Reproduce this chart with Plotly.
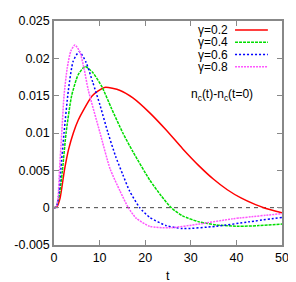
import plotly.graph_objects as go

# gamma = 0.2
t_g02 = [0, 0.6, 1.34, 2.28, 3.2, 4.24, 5.3, 6.4, 8.4, 11.1, 14.5, 17.3, 21, 24.6, 28.2, 31.8, 35, 38, 41,
         44.2, 46, 50]
v_g02 = [0, 0.0001, 0.0013, 0.0050, 0.0078, 0.0100, 0.0117, 0.0130, 0.0150, 0.0161, 0.0157, 0.0147, 0.0127,
         0.0104, 0.0079, 0.0056, 0.0038, 0.0024, 0.0013, 0.0004, 0, -0.0007]

# gamma = 0.4
t_g04 = [0, 0.5, 1.2, 1.85, 2.65, 3.87, 5.3, 6.8, 8.5, 10.5, 12.6, 15.1, 17.3, 21, 23.5, 25.7, 28.2, 31.8,
         35.5, 40.5, 44.9, 50]
v_g04 = [0, 0.0001, 0.0018, 0.0050, 0.0100, 0.0150, 0.0178, 0.0189, 0.0181, 0.0162, 0.0133, 0.0100, 0.0075,
         0.0037, 0.0016, 0, -0.0011, -0.0019, -0.0023, -0.0025, -0.0024, -0.0022]

# gamma = 0.6
t_g06 = [0, 0.5, 1.0, 1.48, 2.2, 3.15, 4.2, 5.54, 7.0, 8.5, 10.1, 11.85, 13.5, 15.1, 16.6, 18.8, 21, 24.6,
         28.2, 35.5, 42.7, 50]
v_g06 = [0, 0.0001, 0.0015, 0.0050, 0.0100, 0.0157, 0.0196, 0.0209, 0.0195, 0.0168, 0.0137, 0.0100, 0.0069,
         0.0044, 0.0022, 0, -0.0013, -0.0024, -0.0028, -0.0025, -0.0019, -0.0013]

# gamma = 0.8
t_g08 = [0, 0.5, 0.9, 1.2, 1.7, 2.2, 2.9, 3.7, 4.6, 5.7, 6.6, 7.5, 10.1, 12.3, 14.5, 16.3, 18, 21, 25.3,
         31.8, 39.1, 50]
v_g08 = [0, 0.0001, 0.0015, 0.0050, 0.0100, 0.0150, 0.0187, 0.0210, 0.0218, 0.0208, 0.0186, 0.0158, 0.0100,
         0.0052, 0.0022, 0, -0.0014, -0.0025, -0.0027, -0.0022, -0.0015, -0.0008]

labels = ["γ=0.2", "γ=0.4", "γ=0.6", "γ=0.8"]
x_ticks = [0, 10, 20, 30, 40, 50]
y_ticks = [-0.005, 0, 0.005, 0.01, 0.015, 0.02, 0.025]
y_tick_text = ["-0.005", "0", "0.005", "0.01", "0.015", "0.02", "0.025"]

colors = ["#ff0000", "#00dd00", "#0000ff", "#ff55ff"]
dashes = ["solid", "3px,1px", "2px,2px", "2px,1px"]
series = [(t_g02, v_g02), (t_g04, v_g04), (t_g06, v_g06), (t_g08, v_g08)]

fig = go.Figure()
for (t, v), c, d, name in zip(series, colors, dashes, labels):
    fig.add_trace(go.Scatter(x=t, y=v, mode="lines", name=name,
                             line=dict(color=c, width=1.5, dash=d, shape="spline", smoothing=0.6),
                             showlegend=False))

# zero reference line
fig.add_shape(type="line", xref="x", yref="y", x0=0, x1=50, y0=0, y1=0,
              line=dict(color="#444444", width=1, dash="4px,4px"), layer="below")

font = "Liberation Sans, Arial, sans-serif"

# legend (gnuplot style: text then sample)
leg_y = [0.960, 0.905, 0.850, 0.796]
for name, c, d, yy in zip(labels, colors, dashes, leg_y):
    fig.add_annotation(xref="paper", yref="paper", x=0.766, y=yy, text=name, showarrow=False,
                       xanchor="right", yanchor="middle", borderpad=0,
                       font=dict(family=font, size=12, color="#000"))
    fig.add_shape(type="line", xref="paper", yref="paper", x0=0.794, x1=0.938, y0=yy, y1=yy,
                  line=dict(color=c, width=1.5, dash=d))

fig.add_annotation(xref="paper", yref="paper", x=0.883, y=0.669,
                   text="n<sub>c</sub>(t)-n<sub>c</sub>(t=0)", showarrow=False,
                   xanchor="right", yanchor="middle", font=dict(family=font, size=12, color="#000"))

# x-axis title
fig.add_annotation(xref="paper", yref="paper", x=0.5, y=-0.138, text="t", showarrow=False,
                   xanchor="center", yanchor="middle", font=dict(family=font, size=12.5, color="#000"))

axis_common = dict(showgrid=False, zeroline=False, showline=True, mirror="ticks",
                   linecolor="#888888", linewidth=1.5, ticks="inside", ticklen=5,
                   tickcolor="#888888", tickwidth=1,
                   tickfont=dict(family=font, size=12.5, color="#000"))

# page body has an 8px margin, so the figure is shrunk and offset accordingly
fig.update_layout(
    width=288, height=274,
    margin=dict(l=45.5, r=12.7, t=6.7, b=37),
    paper_bgcolor="white", plot_bgcolor="white",
    xaxis=dict(range=[0, 50], tickvals=x_ticks, **axis_common),
    yaxis=dict(range=[-0.005, 0.025], tickvals=y_ticks, ticktext=y_tick_text, **axis_common),
)

fig.write_html("out.html")
